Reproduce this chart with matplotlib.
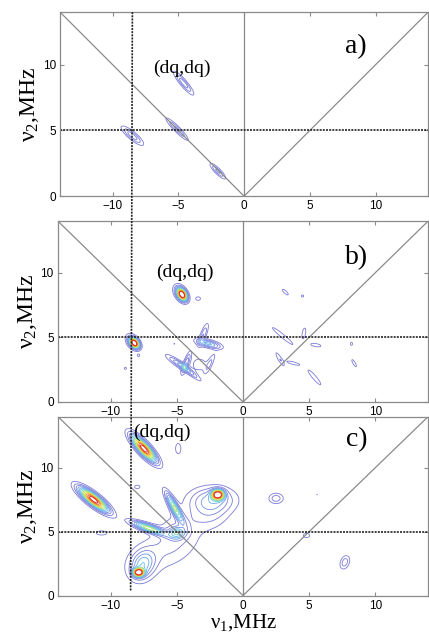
import numpy as np
import matplotlib.pyplot as plt
from matplotlib.colors import LinearSegmentedColormap
from matplotlib.lines import Line2D

plt.rcParams['mathtext.fontset'] = 'custom'
plt.rcParams['mathtext.rm'] = 'Liberation Serif'
plt.rcParams['mathtext.default'] = 'rm'

# peaks: centre x, centre y, amplitude, long sigma, short sigma, angle (deg)
a_x = [-4.6, -8.5, -5.1, -2.0]
a_y = [8.6, 4.6, 5.1, 1.9]
a_amp = [0.27, 0.27, 0.24, 0.24]
a_sa = [0.75, 0.7, 0.8, 0.55]
a_sb = [0.17, 0.2, 0.15, 0.15]
a_ang = [-50, -40, -45, -45]

b_x = [-4.6, -4.8, -3.4, -8.2, -8.4, -7.9, -8.9, -5.2, -4.8, -4.3, -4.0, -3.3, -2.5,
       -3.0, -2.6, 3.0, 2.8, 3.8, 4.6, 5.5, 5.4, 3.2, 4.5, 8.2, 8.4]
b_y = [8.3, 8.5, 8.0, 4.55, 4.7, 3.6, 2.6, 4.5, 2.9, 3.0, 2.3, 2.9, 3.0,
       5.2, 4.5, 5.1, 3.3, 3.0, 5.3, 4.4, 1.9, 8.5, 8.2, 4.5, 3.0]
b_amp = [1.0, 0.2, 0.12, 1.0, 0.2, 0.1, 0.1, 0.09, 0.26, 0.26, 0.15, 0.12, 0.15,
         0.22, 0.38, 0.15, 0.14, 0.13, 0.14, 0.13, 0.14, 0.13, 0.11, 0.11, 0.12]
b_sa = [0.35, 0.45, 0.2, 0.3, 0.45, 0.12, 0.12, 0.08, 0.85, 0.65, 0.75, 0.5, 0.65,
        0.65, 0.65, 0.9, 0.55, 0.5, 0.4, 0.4, 0.7, 0.3, 0.12, 0.15, 0.35]
b_sb = [0.22, 0.3, 0.15, 0.2, 0.3, 0.12, 0.12, 0.08, 0.17, 0.14, 0.13, 0.45, 0.15,
        0.16, 0.2, 0.12, 0.12, 0.1, 0.12, 0.12, 0.13, 0.1, 0.1, 0.1, 0.1]
b_ang = [-60, -60, 0, -50, -60, 0, 0, 0, -35, 70, -40, 0, 65,
         70, -15, -40, -60, -15, 80, -10, -50, -45, 0, 90, -60]

c_x = [-7.5, -11.3, -1.9, -2.3, -2.5, -5.2, -7.2, -5.0, -7.9, -7.6, -6.2, -5.0,
       -10.7, -4.9, -8.0, 2.5, 5.6, 4.8, 7.7]
c_y = [11.5, 7.5, 7.9, 7.5, 6.3, 6.9, 5.3, 4.9, 1.8, 2.4, 3.2, 5.0,
       4.9, 11.5, 8.5, 7.6, 7.9, 4.7, 2.6]
c_amp = [1.0, 1.0, 1.0, 0.3, 0.13, 0.55, 0.6, 0.35, 1.0, 0.35, 0.1, 0.13,
         0.11, 0.11, 0.1, 0.2, 0.09, 0.11, 0.2]
c_sa = [0.9, 0.95, 0.3, 1.2, 1.0, 0.9, 0.9, 0.4, 0.25, 0.8, 2.3, 1.5,
        0.5, 0.5, 0.3, 0.4, 0.06, 0.3, 0.4]
c_sb = [0.28, 0.28, 0.25, 0.7, 0.8, 0.2, 0.2, 0.3, 0.2, 0.6, 1.1, 1.0,
        0.2, 0.25, 0.2, 0.3, 0.06, 0.2, 0.25]
c_ang = [-48, -39, 0, 0, 0, -62, -20, 0, 0, 70, 20, 45,
         0, 90, 0, 0, 0, 0, 70]

panels = [
    ('a)', a_x, a_y, a_amp, a_sa, a_sb, a_ang),
    ('b)', b_x, b_y, b_amp, b_sa, b_sb, b_ang),
    ('c)', c_x, c_y, c_amp, c_sa, c_sb, c_ang),
]
dq_pos = [(-4.7, 9.7), (-4.4, 10.0), (-6.1, 12.8)]
tag_pos = [(8.5, 11.4), (8.6, 11.2), (8.6, 12.2)]
x_dash = -8.5
y_dash = 5

levels = [0.08, 0.15, 0.22, 0.29, 0.36, 0.43, 0.5, 0.57, 0.64, 0.71, 0.78, 0.85, 0.92]
cmap = LinearSegmentedColormap.from_list(
    'spec', ['#7a7ad8', '#7a7ad8', '#6aa0e8', '#60c8e8', '#a0e070', '#f0e040',
             '#f08030', '#e02020'])

gx = np.linspace(-14, 14, 561)
gy = np.linspace(0, 14, 281)
X, Y = np.meshgrid(gx, gy)


def field(px, py, amp, sa, sb, ang):
    Z = np.zeros_like(X)
    for x0, y0, A, s1, s2, t in zip(px, py, amp, sa, sb, ang):
        th = np.deg2rad(t)
        u = (X - x0) * np.cos(th) + (Y - y0) * np.sin(th)
        v = -(X - x0) * np.sin(th) + (Y - y0) * np.cos(th)
        Z += A * np.exp(-0.5 * ((u / s1) ** 2 + (v / s2) ** 2))
    return Z


fig = plt.figure(figsize=(4.29, 6.39), dpi=100)
rects = [[0.140, 0.693, 0.858, 0.288],
         [0.135, 0.371, 0.863, 0.283],
         [0.135, 0.068, 0.863, 0.280]]
gray = '#8a8a8a'
dash = (0, (1.2, 0.7))
axes = []
for i, (tag, px, py, amp, sa, sb, ang) in enumerate(panels):
    ax = fig.add_axes(rects[i])
    axes.append(ax)
    Z = field(px, py, amp, sa, sb, ang)
    ax.contour(X, Y, Z, levels=levels, cmap=cmap, vmin=0.08, vmax=0.92, linewidths=0.6)
    ax.plot([-14, 0, 14], [14, 0, 14], color=gray, lw=0.9)
    ax.axvline(0, color=gray, lw=0.9)
    ax.axhline(y_dash, color='#222222', lw=1.2, ls=dash)
    ax.set_xlim(-14, 14)
    ax.set_ylim(0, 14)
    ax.set_xticks([-10, -5, 0, 5, 10])
    ax.set_yticks([0, 5, 10])
    ax.tick_params(direction='in', top=True, right=True, length=3, color=gray,
                   labelsize=8.5, pad=3)
    for lab in ax.get_xticklabels() + ax.get_yticklabels():
        lab.set_family('Liberation Sans')
    for s in ax.spines.values():
        s.set_color(gray)
        s.set_linewidth(0.9)
    ax.text(dq_pos[i][0], dq_pos[i][1], '(dq,dq)', family='Liberation Serif',
            fontsize=14, ha='center', va='center')
    ax.text(tag_pos[i][0], tag_pos[i][1], tag, family='Liberation Serif',
            fontsize=20, ha='center', va='center')
    ax.set_ylabel('ν$_2$,MHz', family='Liberation Serif', fontsize=17, labelpad=1)

axes[2].set_xlabel('ν$_1$,MHz', family='Liberation Serif', fontsize=15, labelpad=0)

# dashed vertical line running through all three panels
to_fig = fig.transFigure.inverted()
top = to_fig.transform(axes[0].transData.transform((x_dash, 14)))
bot = to_fig.transform(axes[2].transData.transform((x_dash, 0.4)))
fig.add_artist(Line2D([top[0], bot[0]], [top[1], bot[1]], transform=fig.transFigure,
                      color='#222222', lw=1.2, ls=dash))

fig.savefig('out.png', dpi=100)
